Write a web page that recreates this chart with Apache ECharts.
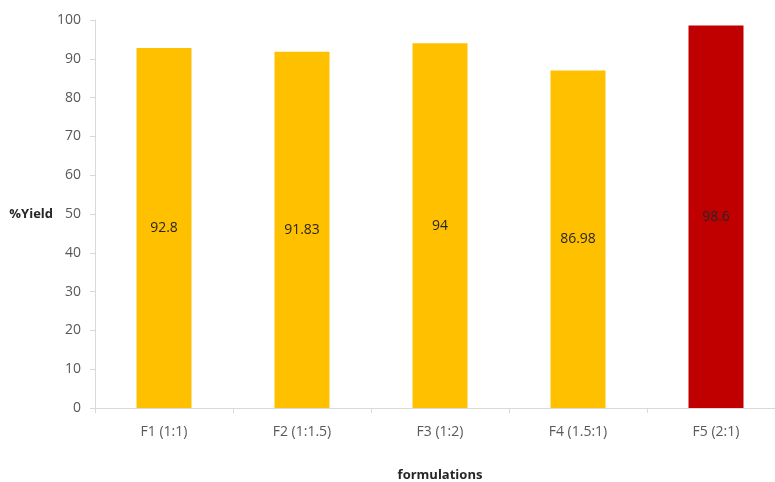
<!DOCTYPE html>
<html>
<head>
<meta charset="utf-8">
<script src="https://cdn.jsdelivr.net/npm/echarts@6/dist/echarts.min.js"></script>
<style>html,body{margin:0;padding:0;background:#fff}#c{width:775px;height:482px}</style>
</head>
<body>
<div id="c"></div>
<script>
const categories = ['F1 (1:1)', 'F2 (1:1.5)', 'F3 (1:2)', 'F4 (1.5:1)', 'F5 (2:1)'];
const yieldValues = [92.8, 91.83, 94, 86.98, 98.6];
const barColors = ['#FFC000', '#FFC000', '#FFC000', '#FFC000', '#C00000'];
const yTicks = [0, 10, 20, 30, 40, 50, 60, 70, 80, 90, 100];

const chart = echarts.init(document.getElementById('c'), null, {renderer: 'canvas'});
const font = '"Open Sans", "Liberation Sans", sans-serif';
chart.setOption({
  animation: false,
  grid: {left: 95, right: -10, top: 20, bottom: 74, containLabel: false, outerBoundsMode: 'none'},
  xAxis: {
    type: 'category',
    data: categories,
    name: 'formulations',
    nameLocation: 'middle',
    nameGap: 61,
    nameTextStyle: {fontFamily: font, fontSize: 13, fontWeight: 'bold', color: '#262626'},
    axisLine: {lineStyle: {color: '#d9d9d9', width: 1}},
    axisTick: {show: true, length: 5, lineStyle: {color: '#d9d9d9'}},
    axisLabel: {fontFamily: font, fontSize: 14, color: '#595959', margin: 17}
  },
  yAxis: {
    type: 'value',
    min: yTicks[0],
    max: yTicks[yTicks.length - 1],
    interval: 10,
    name: '%Yield',
    nameLocation: 'middle',
    nameRotate: 0,
    nameGap: 42,
    nameMoveOverlap: false,
    nameTextStyle: {fontFamily: font, fontSize: 13, fontWeight: 'bold', color: '#262626'},
    axisLine: {show: true, lineStyle: {color: '#d9d9d9', width: 1}},
    axisTick: {show: true, length: 5, lineStyle: {color: '#d9d9d9'}},
    splitLine: {show: false},
    axisLabel: {fontFamily: font, fontSize: 14, color: '#595959', margin: 14}
  },
  series: [{
    type: 'bar',
    barWidth: 55,
    data: yieldValues.map((v, i) => ({value: v, itemStyle: {color: barColors[i]}})),
    label: {
      show: true,
      position: 'inside',
      fontFamily: font,
      fontSize: 14,
      color: '#262626',
      formatter: p => String(p.value)
    }
  }]
});
</script>
</body>
</html>
